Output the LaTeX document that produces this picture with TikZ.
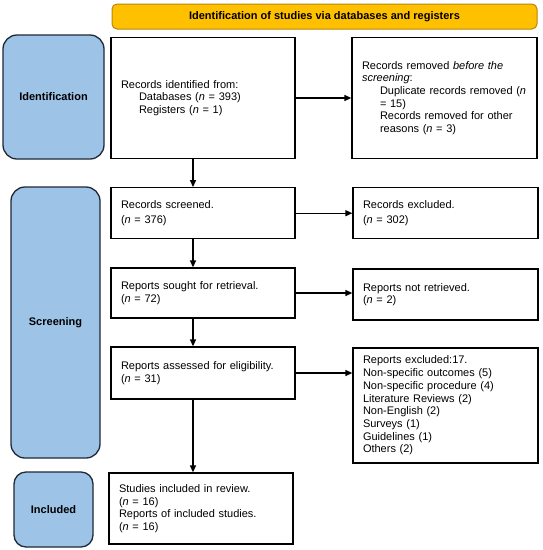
\documentclass[tikz,border=0pt]{standalone}
\usepackage{fontspec}
\setmainfont{Liberation Sans}
\usetikzlibrary{arrows.meta}
\definecolor{phase}{HTML}{9DC3E6}
\definecolor{phaseline}{HTML}{1F2937}
\definecolor{banner}{HTML}{FFC000}
\definecolor{bannerline}{HTML}{B8860B}
\begin{document}
\begin{tikzpicture}[x=1pt,y=-1pt,
  every node/.style={font=\fontsize{11}{12.7}\selectfont},
  box/.style={draw=black, line width=1.3pt, fill=white, inner xsep=10pt, inner ysep=0pt, align=left},
  phasebox/.style={draw=phaseline, fill=phase, line width=1.3pt, rounded corners=14pt,
    font=\fontsize{11}{13}\selectfont\bfseries, align=center, inner sep=0pt},
  bannerbox/.style={draw=bannerline, fill=banner, line width=1pt, rounded corners=5pt,
    font=\fontsize{11}{13}\selectfont\bfseries, inner sep=0pt},
  flow/.style={line width=1.4pt, -{Triangle[length=7pt,width=6pt]}},
]
\useasboundingbox (0,0) rectangle (543,550);
\fill[white] (0,0) rectangle (543,550);

% banner
\node[bannerbox, minimum width=425pt, minimum height=25pt] (ban) at (324.5,16.5)
  {Identification of studies via databases and registers};

% phase labels
\node[phasebox, minimum width=101pt, minimum height=124pt] (pid) at (53.5,97) {Identification};
\node[phasebox, minimum width=89pt, minimum height=271pt] (pscr) at (55.5,322.5) {Screening};
\node[phasebox, minimum width=79pt, minimum height=75pt, rounded corners=12pt] (pinc) at (53.5,509.5) {Included};

% left column
\node[box, text width=164pt, minimum height=121pt] (rid) at (203,98)
  {Records identified from:\\
   \hspace*{18pt}Databases (\textit{n} = 393)\\
   \hspace*{18pt}Registers (\textit{n} = 1)};
\node[box, text width=164pt, minimum height=51pt] (scr) at (203,213.2)
  {Records screened.\\[3pt](\textit{n} = 376)};
\node[box, text width=164pt, minimum height=50pt] (sou) at (203,293)
  {Reports sought for retrieval.\\(\textit{n} = 72)};
\node[box, text width=164pt, minimum height=52pt] (ass) at (203,373)
  {Reports assessed for eligibility.\\(\textit{n} = 31)};
\node[box, text width=164pt, minimum height=71pt] (inc) at (201,508.5)
  {Studies included in review.\\(\textit{n} = 16)\\Reports of included studies.\\(\textit{n} = 16)};

% right column
\node[box, text width=165pt, minimum height=121pt] (rrem) at (444.5,98)
  {Records removed \textit{before the}\\
   \textit{screening}:\\
   \hspace*{18pt}Duplicate records removed (\textit{n}\\
   \hspace*{18pt}= 15)\\
   \hspace*{18pt}Records removed for other\\
   \hspace*{18pt}reasons (\textit{n} = 3)};
\node[box, text width=165pt, minimum height=51pt] (exc) at (445.5,213.2)
  {Records excluded.\\[3pt](\textit{n} = 302)};
\node[box, text width=165pt, minimum height=51pt] (nret) at (445.5,294.5)
  {Reports not retrieved.\\(\textit{n} = 2)};
\node[box, text width=165pt, minimum height=115pt] (rexc) at (445.5,405.5)
  {Reports excluded:17.\\
   Non-specific outcomes (5)\\
   Non-specific procedure (4)\\
   Literature Reviews (2)\\
   Non-English (2)\\
   Surveys (1)\\
   Guidelines (1)\\
   Others (2)};

% connectors
\coordinate (ax) at (193,0);
\draw[flow] (rid.south -| ax) -- (scr.north -| ax);
\draw[flow] (scr.south -| ax) -- (sou.north -| ax);
\draw[flow] (sou.south -| ax) -- (ass.north -| ax);
\draw[flow] (ass.south -| ax) -- (inc.north -| ax);
\draw[flow] (rid.east) -- (rid.east -| rrem.west);
\draw[flow] (scr.east) -- (scr.east -| exc.west);
\draw[flow] (sou.east) -- (sou.east -| nret.west);
\draw[flow] (ass.east) -- (ass.east -| rexc.west);
\end{tikzpicture}
\end{document}
